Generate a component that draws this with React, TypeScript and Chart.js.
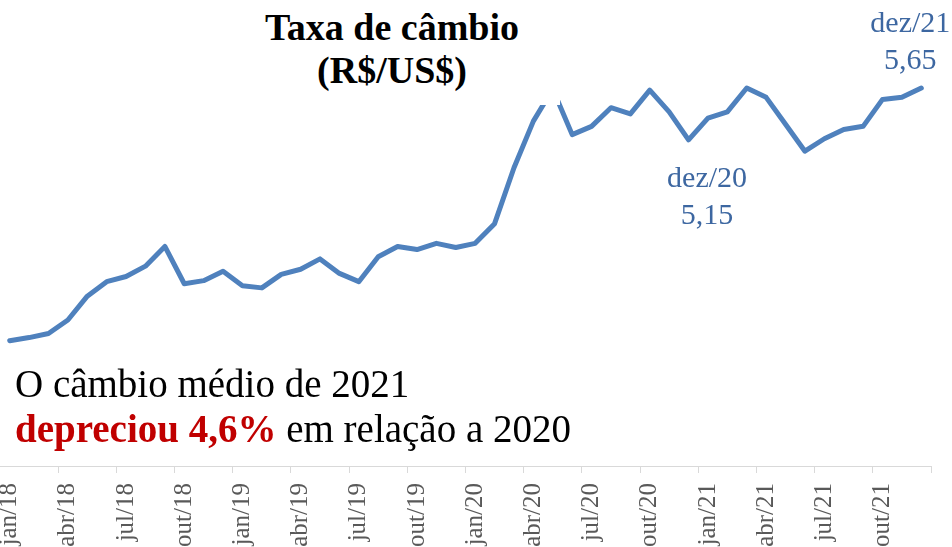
import React, { useEffect, useRef } from "react";
import { Chart, registerables } from "chart.js";

Chart.register(...registerables);

// ---- data ----
const categories: string[] = [
  "jan/18", "fev/18", "mar/18", "abr/18", "mai/18", "jun/18", "jul/18", "ago/18", "set/18", "out/18", "nov/18", "dez/18",
  "jan/19", "fev/19", "mar/19", "abr/19", "mai/19", "jun/19", "jul/19", "ago/19", "set/19", "out/19", "nov/19", "dez/19",
  "jan/20", "fev/20", "mar/20", "abr/20", "mai/20", "jun/20", "jul/20", "ago/20", "set/20", "out/20", "nov/20", "dez/20",
  "jan/21", "fev/21", "mar/21", "abr/21", "mai/21", "jun/21", "jul/21", "ago/21", "set/21", "out/21", "nov/21", "dez/21",
];

const rate2018: number[] = [3.21, 3.24, 3.28, 3.41, 3.64, 3.78, 3.83, 3.93, 4.12, 3.76, 3.79, 3.88];
const rate2019: number[] = [3.74, 3.72, 3.85, 3.90, 4.00, 3.86, 3.78, 4.02, 4.12, 4.09, 4.15, 4.11];
const rate2020: number[] = [4.15, 4.34, 4.88, 5.33, 5.64, 5.20, 5.28, 5.46, 5.40, 5.63, 5.42, 5.15];
const rate2021: number[] = [5.36, 5.42, 5.65, 5.56, 5.30, 5.04, 5.16, 5.25, 5.28, 5.54, 5.56, 5.65];

const rates: number[] = [...rate2018, ...rate2019, ...rate2020, ...rate2021];

// points that carry a data label (month + value)
const labelledPoints: string[] = ["dez/20", "dez/21"];

const titleLines: string[] = ["Taxa de câmbio", "(R$/US$)"];
const noteLine1 = "O câmbio médio de 2021";
const noteBold = "depreciou 4,6%";
const noteRest = " em relação a 2020";

// ---- styles ----
const LINE_COLOR = "#4f81bd";
const LABEL_COLOR = "#3d67a1";
const SERIF = '"Liberation Serif", "Times New Roman", serif';
const labelOffsets: { [k: string]: { dx: number; dy: number } } = {
  "dez/20": { dx: 18.5, dy: 47 },
  "dez/21": { dx: -11, dy: -56 },
};

const pointLabelPlugin = {
  id: "pointLabels",
  afterDatasetsDraw(chart: any) {
    const ctx = chart.ctx;
    const meta = chart.getDatasetMeta(0);
    ctx.save();
    ctx.font = `30px ${SERIF}`;
    ctx.fillStyle = LABEL_COLOR;
    ctx.textAlign = "center";
    ctx.textBaseline = "alphabetic";
    labelledPoints.forEach((cat) => {
      const i = categories.indexOf(cat);
      const el = meta.data[i];
      const off = labelOffsets[cat];
      const x = el.x + off.dx;
      const y = el.y + off.dy;
      ctx.fillText(cat, x, y);
      ctx.fillText(rates[i].toFixed(2).replace(".", ","), x, y + 37);
    });
    ctx.restore();
  },
};

export default function App() {
  const canvasRef = useRef<HTMLCanvasElement | null>(null);

  useEffect(() => {
    if (!canvasRef.current) return;
    const chart = new Chart(canvasRef.current, {
      type: "line",
      data: {
        labels: categories,
        datasets: [
          {
            data: rates,
            borderColor: LINE_COLOR,
            borderWidth: 5,
            pointRadius: 0,
            tension: 0,
            fill: false,
            borderCapStyle: "round",
            borderJoinStyle: "round",
          },
        ],
      },
      options: {
        responsive: false,
        animation: false,
        devicePixelRatio: 1,
        layout: { padding: { left: 0, right: 21, top: 0, bottom: 0 } },
        plugins: {
          legend: { display: false },
          tooltip: { enabled: false },
          title: { display: false },
        },
        scales: {
          y: {
            display: false,
            min: 2,
            max: 6.5,
          },
          x: {
            offset: true,
            grid: {
              offset: true,
              drawOnChartArea: false,
              drawTicks: true,
              tickLength: 7,
              lineWidth: 1,
              color: (c: any) =>
                c.index === undefined || c.index % 3 === 0 ? "#d9d9d9" : "rgba(0,0,0,0)",
            },
            border: { display: true, color: "#d9d9d9", width: 1 },
            ticks: {
              autoSkip: false,
              maxRotation: 90,
              minRotation: 90,
              padding: 10,
              color: "#595959",
              font: { family: SERIF, size: 25 },
              callback: (_v: any, i: number) => (i % 3 === 0 ? categories[i] : ""),
            },
            afterFit: (scale: any) => {
              scale.height = 81;
              scale.paddingLeft = 0;
              scale.paddingRight = 0;
            },
          },
        },
      },
      plugins: [pointLabelPlugin],
    });
    return () => chart.destroy();
  }, []);

  return (
    <div
      style={{
        position: "fixed",
        left: 0,
        top: 0,
        width: 952,
        height: 547,
        background: "#ffffff",
        overflow: "hidden",
      }}
    >
      <canvas ref={canvasRef} width={952} height={547} style={{ display: "block" }} />
      <div
        style={{
          position: "absolute",
          left: 224,
          top: 0,
          width: 336,
          height: 105,
          background: "#ffffff",
          textAlign: "center",
          fontFamily: SERIF,
          fontWeight: "bold",
          fontSize: 38,
          lineHeight: "43px",
          color: "#000000",
          paddingTop: 6,
          boxSizing: "border-box",
        }}
      >
        {titleLines.map((t) => (
          <div key={t}>{t}</div>
        ))}
      </div>
      <div
        style={{
          position: "absolute",
          left: 15,
          top: 361,
          fontFamily: SERIF,
          fontSize: 39,
          lineHeight: "45px",
          color: "#000000",
          whiteSpace: "nowrap",
        }}
      >
        <div>{noteLine1}</div>
        <div>
          <span style={{ color: "#c00000", fontWeight: "bold" }}>{noteBold}</span>
          {noteRest}
        </div>
      </div>
    </div>
  );
}
